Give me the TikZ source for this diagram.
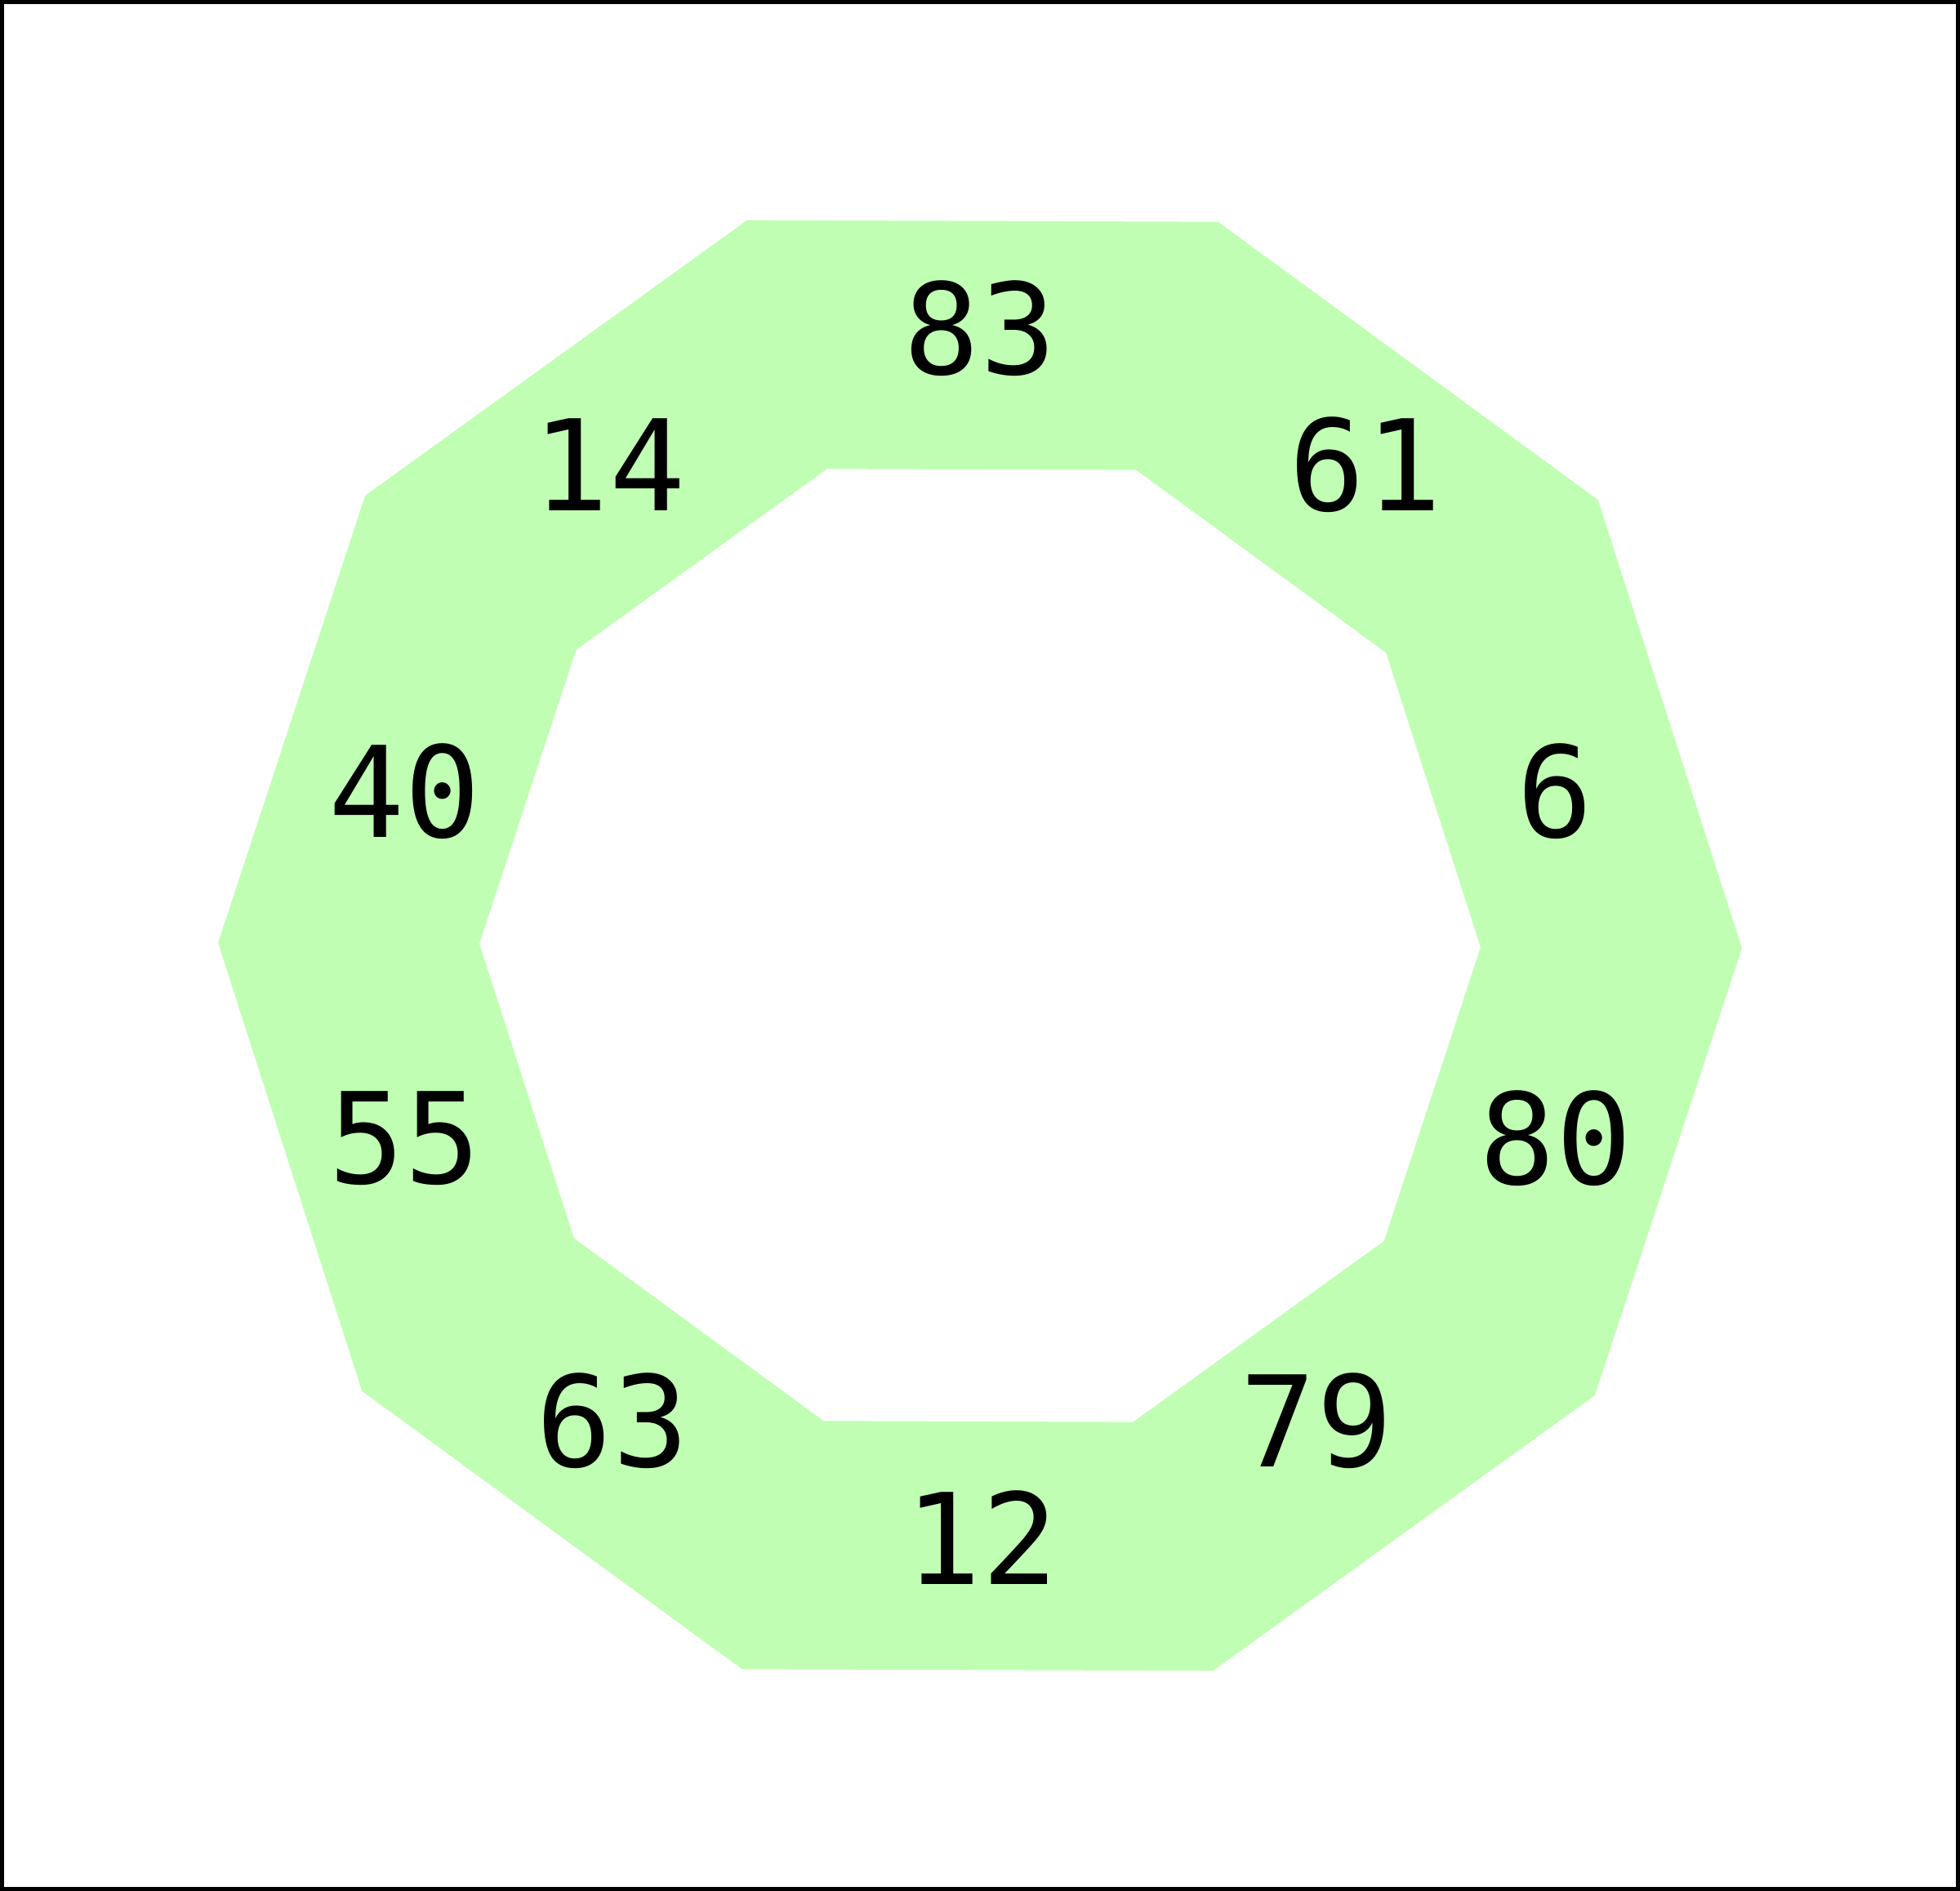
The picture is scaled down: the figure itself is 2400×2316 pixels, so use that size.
\documentclass[tikz,border=0pt]{standalone}
\usepackage{fontspec}
\newfontfamily\labfont{DejaVu Sans Mono}
\definecolor{ringgreen}{RGB}{192,255,179}
\tikzset{numlabel/.style={font=\labfont\fontsize{44}{50}\selectfont, text=black, inner sep=0pt}}
\begin{document}
\begin{tikzpicture}[x=0.01cm,y=0.01cm]
\useasboundingbox (0,0) rectangle (2400,2316);
\fill[ringgreen, even odd rule, shift={(1200,1158)}]
  (-0.2:933) \foreach \k in {1,...,9} { -- ({\k*36-0.2}:933) } -- cycle
  (-0.2:613) \foreach \k in {1,...,9} { -- ({\k*36-0.2}:613) } -- cycle;
\node[numlabel] (n83) at (1200,1914) {83};
\node[numlabel] (n61) at (1672,1747) {61};
\node[numlabel] (n14) at (746,1747) {14};
\node[numlabel] (n6) at (1904,1347) {6};
\node[numlabel] (n40) at (496,1347) {40};
\node[numlabel] (n80) at (1905,922) {80};
\node[numlabel] (n55) at (496,922) {55};
\node[numlabel] (n79) at (1612,576) {79};
\node[numlabel] (n63) at (750,576) {63};
\node[numlabel] (n12) at (1202,433) {12};
\draw[line width=0.05cm] (2.5,2.5) rectangle (2397.5,2313.5);
\end{tikzpicture}
\end{document}
